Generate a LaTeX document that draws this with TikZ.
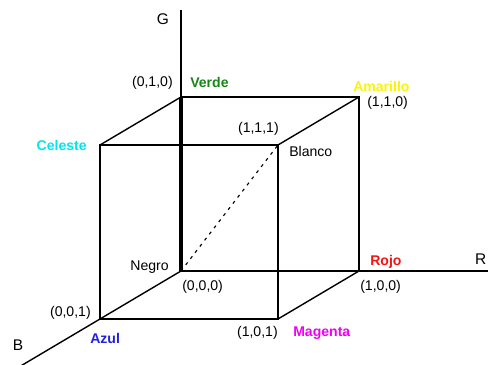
\documentclass[tikz,border=0pt]{standalone}
\usepackage{fontspec}
\setmainfont{Liberation Sans}
\usepackage{xcolor}
\usetikzlibrary{calc}

\definecolor{verde}{RGB}{20,135,20}
\definecolor{celeste}{RGB}{0,230,240}
\definecolor{amarillo}{RGB}{250,245,0}
\definecolor{azul}{RGB}{30,30,230}
\definecolor{rojo}{RGB}{240,20,20}
\definecolor{magenta2}{RGB}{240,0,240}

\begin{document}
\begin{tikzpicture}[x={(4.45cm,0cm)}, y={(0cm,4.35cm)}, z={(-2.025cm,-1.2cm)},
    cubeline/.style={line width=1pt},
    lbl/.style={inner sep=0pt, font=\fontsize{10}{12}\selectfont},
    clbl/.style={lbl, font=\fontsize{10}{12}\selectfont\bfseries}]
    \useasboundingbox (-4.525cm,-2.35cm) rectangle (7.675cm,6.775cm);

    % Vertices
    \coordinate (v000) at (0,0,0);
    \coordinate (v100) at (1,0,0);
    \coordinate (v010) at (0,1,0);
    \coordinate (v001) at (0,0,1);
    \coordinate (v110) at (1,1,0);
    \coordinate (v101) at (1,0,1);
    \coordinate (v011) at (0,1,1);
    \coordinate (v111) at (1,1,1);
    \coordinate (Gend) at (0,1.5,0);
    \coordinate (Rend) at (1.75,0,0);
    \coordinate (Bend) at (0,0,2);

    % Axes
    \draw[cubeline] (v010) -- (Gend);
    \draw[line width=2.2pt] (v000) -- (v010);
    \draw[cubeline] (v000) -- (Rend);
    \draw[cubeline] (v000) -- (Bend);
    \node (G) [lbl, font=\fontsize{11}{12}\selectfont] at (-0.45cm,6.3cm) {G};
    \node (R) [lbl, font=\fontsize{11}{12}\selectfont, anchor=east] at (7.64cm,0.3cm) {R};
    \node (B) [lbl, font=\fontsize{11}{12}\selectfont] at (-4.075cm,-1.85cm) {B};

    % Edges
    \draw[cubeline] (v010) -- (v110) -- (v100);
    \draw[cubeline] (v011) -- (v111) -- (v101) -- (v001) -- cycle;
    \draw[cubeline] (v010) -- (v011);
    \draw[cubeline] (v110) -- (v111);
    \draw[cubeline] (v100) -- (v101);
    \draw[line width=0.8pt, dash pattern=on 2.2pt off 3.3pt] (v000) -- (v111);

    % Labels
    \node (t010) [lbl, anchor=east] at ([xshift=-0.2cm, yshift=0.35cm]v010) {(0,1,0)};
    \node (Verde) [clbl, text=verde, anchor=west] at ([xshift=0.225cm, yshift=0.375cm]v010) {Verde};
    \node (Celeste) [clbl, text=celeste, anchor=east] at ([xshift=-0.325cm]v011) {Celeste};
    \node (t111) [lbl, anchor=east] at ([xshift=0.025cm, yshift=0.4cm]v111) {(1,1,1)};
    \node (Blanco) [lbl, anchor=west] at ([xshift=0.275cm, yshift=-0.15cm]v111) {Blanco};
    \node (Amarillo) [clbl, text=amarillo, anchor=west] at ([xshift=-0.15cm, yshift=0.275cm]v110) {Amarillo};
    \node (t110) [lbl, anchor=west] at ([xshift=0.2cm, yshift=-0.15cm]v110) {(1,1,0)};
    \node (Negro) [lbl, anchor=east] at ([xshift=-0.3cm, yshift=0.1cm]v000) {Negro};
    \node (t000) [lbl, anchor=west] at ([xshift=0.025cm, yshift=-0.4cm]v000) {(0,0,0)};
    \node (t001) [lbl, anchor=east] at ([xshift=-0.225cm, yshift=0.15cm]v001) {(0,0,1)};
    \node (Azul) [clbl, text=azul, anchor=west] at ([xshift=-0.25cm, yshift=-0.475cm]v001) {Azul};
    \node (Rojo) [clbl, text=rojo, anchor=west] at ([xshift=0.275cm, yshift=0.225cm]v100) {Rojo};
    \node (t100) [lbl, anchor=west] at ([xshift=0.025cm, yshift=-0.4cm]v100) {(1,0,0)};
    \node (t101) [lbl, anchor=east] at ([yshift=-0.35cm]v101) {(1,0,1)};
    \node (Magenta) [clbl, text=magenta2, anchor=west] at ([xshift=0.375cm, yshift=-0.35cm]v101) {Magenta};
\end{tikzpicture}
\end{document}
